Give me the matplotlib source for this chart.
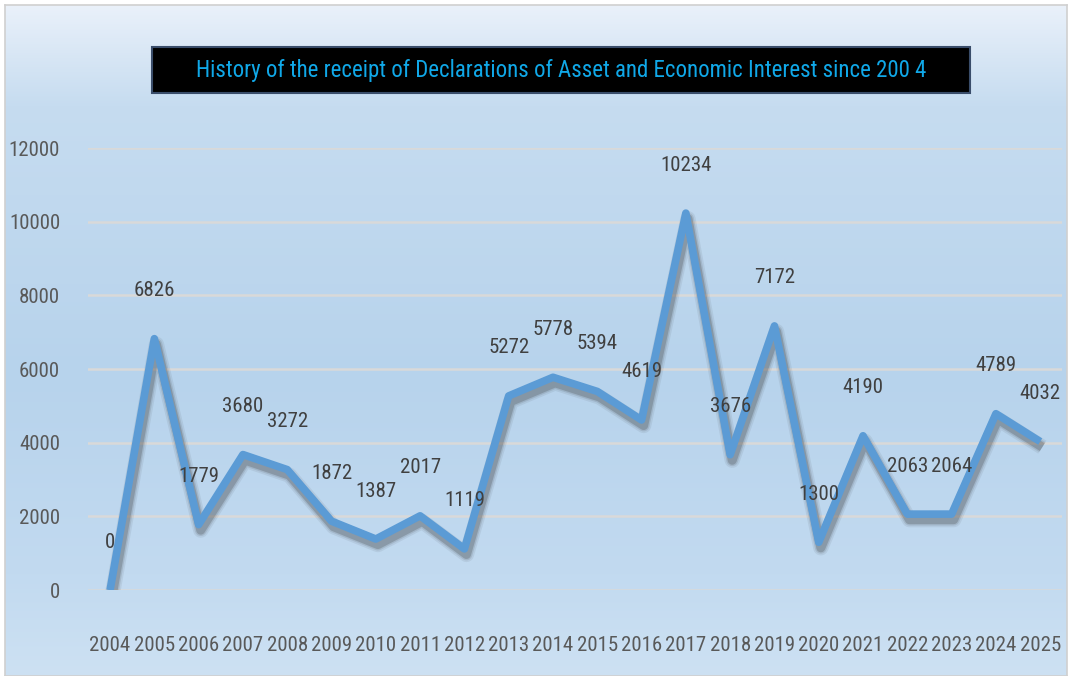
import matplotlib
matplotlib.use('Agg')
import matplotlib.pyplot as plt
import matplotlib.patheffects as pe
from matplotlib import font_manager
from matplotlib.patches import Rectangle
import numpy as np

years = ['2004', '2005', '2006', '2007', '2008', '2009', '2010', '2011',
         '2012', '2013', '2014', '2015', '2016', '2017', '2018', '2019',
         '2020', '2021', '2022', '2023', '2024', '2025']
declarations = [0, 6826, 1779, 3680, 3272, 1872, 1387, 2017, 1119, 5272,
                5778, 5394, 4619, 10234, 3676, 7172, 1300, 4190, 2063, 2064,
                4789, 4032]
y_ticks = [0, 2000, 4000, 6000, 8000, 10000, 12000]
title = 'History of the receipt of Declarations of Asset and Economic Interest since 200 4'

# Pick a narrow font if one is around
names = set(f.name for f in font_manager.fontManager.ttflist)
font = 'DejaVu Sans'
for cand in ['Liberation Sans Narrow', 'Roboto Condensed', 'Open Sans Condensed',
             'Noto Sans Condensed', 'DejaVu Sans Condensed']:
    if cand in names:
        font = cand
        break
plt.rcParams['font.family'] = [font, 'DejaVu Sans']

fig = plt.figure(figsize=(10.72, 6.76), dpi=100)
fig.patch.set_facecolor('white')

# Gradient background
bg = fig.add_axes([0.005, 0.0, 0.99, 0.993])
stops_y = [0.0, 0.15, 0.55, 0.85, 1.0]
stops_c = [np.array([0xea, 0xf1, 0xfa]), np.array([0xc6, 0xdc, 0xf0]),
           np.array([0xb7, 0xd3, 0xec]), np.array([0xc2, 0xda, 0xf0]),
           np.array([0xcd, 0xe1, 0xf3])]
t = np.linspace(0, 1, 300)
grad = np.zeros((300, 1, 3))
for k in range(3):
    grad[:, 0, k] = np.interp(t, stops_y, [c[k] for c in stops_c]) / 255
bg.imshow(grad, aspect='auto', extent=(0, 1, 0, 1))
bg.set_xticks([])
bg.set_yticks([])
for s in bg.spines.values():
    s.set_color('#d0d0d0')
    s.set_linewidth(1.2)

ax = fig.add_axes([0.082, 0.127, 0.909, 0.654])
ax.patch.set_alpha(0)
x = np.arange(len(years))

# soft shadow: a few widening, fading copies under the line
shadow = [pe.SimpleLineShadow(offset=(1.5, -4), shadow_color='#303030',
                              alpha=a, rho=1, linewidth=w)
          for w, a in [(11, 0.08), (8.5, 0.12), (6.5, 0.22)]]
ax.plot(x, declarations, color='#5b9bd5', lw=5.5, solid_joinstyle='round',
        solid_capstyle='butt', zorder=3, path_effects=shadow + [pe.Normal()])
for xi, v in zip(x, declarations):
    ax.annotate(str(v), (xi, v), xytext=(0, 48), textcoords='offset pixels',
                ha='center', va='center', fontsize=15, color='#404040', zorder=4,
                annotation_clip=False)

ax.set_xlim(-0.5, len(years) - 0.5)
ax.set_ylim(0, 12000)
ax.set_yticks(y_ticks)
ax.set_xticks(x)
ax.set_xticklabels(years)
ax.grid(axis='y', color='#d9d9d9', lw=1.8, zorder=0)
ax.set_axisbelow(True)
for s in ax.spines.values():
    s.set_visible(False)
ax.tick_params(length=0, labelsize=15, colors='#595959')
ax.tick_params(axis='y', pad=20)
ax.tick_params(axis='x', pad=33)

# Title box
fig.patches.append(Rectangle((152 / 1072, 1 - 93 / 676), 818 / 1072, 46 / 676,
                             transform=fig.transFigure, facecolor='black',
                             edgecolor='#3a4d6a', lw=1.5, zorder=5))
fig.text(561 / 1072, 1 - 71 / 676, title, ha='center', va='center', fontsize=16.5,
         color='#10a8e8', zorder=6)

fig.savefig('out.png', dpi=100)
